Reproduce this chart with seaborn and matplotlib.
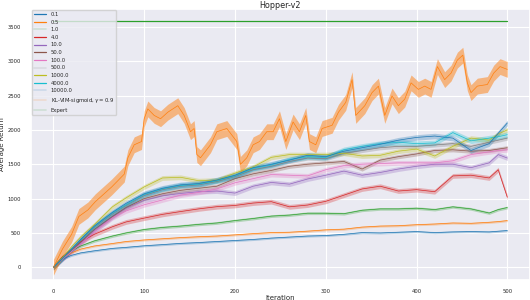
import matplotlib
matplotlib.use("Agg")
import matplotlib.pyplot as plt
from matplotlib.lines import Line2D
import numpy as np
import seaborn as sns

# iteration grid shared by the hyper-parameter runs
iters = [0, 10, 20, 30, 45, 65, 80, 100, 120, 140, 160, 180, 200, 220, 240, 260,
         280, 300, 320, 340, 360, 380, 400, 420, 440, 460, 480, 490, 500]

ret_0_1 = [0, 120, 175, 210, 240, 275, 290, 313, 330, 348, 360, 375, 390, 405, 425, 440,
           455, 462, 480, 505, 500, 510, 520, 505, 515, 520, 515, 525, 535]
ret_0_5 = [0, 140, 210, 265, 310, 346, 375, 398, 415, 432, 445, 455, 472, 490, 505, 510,
           526, 545, 555, 585, 600, 605, 620, 630, 645, 640, 655, 665, 680]
ret_1_0 = [0, 150, 240, 310, 384, 455, 500, 550, 580, 600, 625, 645, 680, 710, 745, 760,
           787, 787, 780, 830, 850, 850, 860, 840, 880, 850, 790, 840, 870]
ret_4_0 = [0, 150, 260, 370, 480, 590, 660, 716, 770, 811, 850, 882, 900, 935, 955, 880,
           906, 960, 1050, 1140, 1180, 1110, 1130, 1100, 1330, 1340, 1300, 1420, 1020]
ret_10 = [0, 120, 230, 350, 530, 730, 860, 975, 1040, 1075, 1100, 1110, 1080, 1180, 1235, 1210,
          1285, 1340, 1400, 1340, 1380, 1430, 1470, 1500, 1500, 1450, 1520, 1640, 1590]
ret_50 = [0, 125, 245, 370, 550, 740, 870, 1000, 1070, 1120, 1150, 1180, 1290, 1360, 1410, 1470,
          1500, 1520, 1540, 1430, 1560, 1610, 1650, 1700, 1710, 1690, 1700, 1720, 1740]
ret_100 = [0, 120, 230, 340, 520, 720, 820, 910, 980, 1050, 1090, 1140, 1230, 1290, 1350, 1340,
           1330, 1420, 1480, 1500, 1510, 1520, 1520, 1520, 1550, 1640, 1680, 1700, 1710]
ret_500 = [0, 130, 255, 390, 580, 775, 900, 1045, 1130, 1180, 1200, 1250, 1320, 1420, 1470, 1540,
           1590, 1580, 1660, 1700, 1740, 1760, 1760, 1780, 1800, 1760, 1820, 1850, 1880]
ret_1000 = [0, 140, 300, 440, 620, 880, 1010, 1170, 1300, 1310, 1260, 1270, 1370, 1460, 1600, 1640,
            1640, 1640, 1660, 1620, 1630, 1690, 1720, 1620, 1760, 1880, 1850, 1940, 2000]
ret_4000 = [0, 130, 260, 400, 590, 790, 910, 1060, 1140, 1190, 1210, 1260, 1330, 1440, 1490, 1570,
            1610, 1600, 1710, 1760, 1800, 1820, 1800, 1810, 1960, 1840, 1880, 1900, 1930]
ret_10000 = [0, 130, 265, 405, 600, 800, 930, 1070, 1150, 1200, 1220, 1270, 1340, 1450, 1500, 1560,
             1630, 1610, 1690, 1740, 1790, 1850, 1890, 1910, 1880, 1700, 1800, 1950, 2100]

# KL-VIM-sigmoid run, read on its own grid
kl_iters = [0, 10, 20, 28, 38, 46, 64, 71, 78, 82, 89, 97, 100, 104, 111, 118, 126, 137, 144,
            151, 155, 158, 162, 173, 180, 191, 202, 206, 213, 220, 227, 235, 242, 249, 256, 264,
            271, 278, 282, 289, 296, 307, 314, 322, 329, 333, 343, 351, 358, 365, 373, 380, 387,
            394, 402, 409, 416, 423, 431, 438, 445, 451, 456, 460, 467, 478, 485, 492, 500]
kl_ret = [0, 266, 479, 740, 835, 953, 1167, 1261, 1356, 1594, 1783, 1830, 2162, 2305, 2210, 2162,
          2257, 2352, 2210, 1973, 2020, 1641, 1594, 1783, 1973, 2020, 1830, 1498, 1594, 1783, 1830,
          1973, 1973, 2162, 1830, 2115, 1973, 2210, 1830, 1783, 2020, 2067, 2257, 2400, 2731, 2210,
          2352, 2542, 2637, 2210, 2494, 2352, 2447, 2684, 2589, 2637, 2589, 2921, 2731, 2826, 3016,
          3087, 2684, 2542, 2637, 2660, 2826, 2921, 2880]

expert_return = 3580

labels = ["0.1", "0.5", "1.0", "4.0", "10.0", "50.0", "100.0", "500.0", "1000.0", "4000.0",
          "10000.0", "KL-VIM-sigmoid, $\\gamma = 0.9$", "Expert"]
hp_runs = [ret_0_1, ret_0_5, ret_1_0, ret_4_0, ret_10, ret_50, ret_100, ret_500, ret_1000,
           ret_4000, ret_10000]
band = [15, 15, 20, 35, 35, 30, 35, 30, 35, 40, 40]
kl_band = 115

sns.set_theme(style="darkgrid")
fig, ax = plt.subplots(figsize=(5.3, 3.0), dpi=100)
fig.subplots_adjust(left=0.058, right=1.0, bottom=0.068, top=0.97)

pal = sns.color_palette("tab10")
x = np.array(iters)
for i, (run, w) in enumerate(zip(hp_runs, band)):
    c = pal[i % 10]
    y = np.array(run, dtype=float)
    sns.lineplot(x=x, y=y, ax=ax, color=c, lw=0.5)
    ax.fill_between(x, y - w, y + w, color=c, alpha=0.3, lw=0)

kx = np.array(kl_iters)
ky = np.array(kl_ret, dtype=float)
sns.lineplot(x=kx, y=ky, ax=ax, color=pal[1], lw=0.5)
ax.fill_between(kx, ky - kl_band, ky + kl_band, color=pal[1], alpha=0.5, lw=0)

sns.lineplot(x=[iters[0], iters[-1]], y=[expert_return, expert_return], ax=ax, color=pal[2], lw=0.9)

ax.set_xlim(-25, 525)
ax.set_ylim(-179, 3759)
ax.set_xticks([0, 100, 200, 300, 400, 500])
ax.set_yticks([0, 500, 1000, 1500, 2000, 2500, 3000, 3500])
ax.tick_params(labelsize=3.8, pad=1)
ax.set_title("Hopper-v2", fontsize=5.8, pad=1)
ax.set_xlabel("Iteration", fontsize=5, labelpad=0.5)
ax.set_ylabel("Average Return", fontsize=5, labelpad=1.5)
for g in ax.get_xgridlines() + ax.get_ygridlines():
    g.set_linewidth(0.8)

# legend handles: some entries come out as pale patches in the original
pale = {2, 7, 10, 11, 12}
handles = []
for i, lab in enumerate(labels):
    c = pal[i % 10]
    if i in pale:
        handles.append(Line2D([], [], color=c, alpha=0.15, lw=1.2))
    else:
        handles.append(Line2D([], [], color=c, lw=0.9))
ax.legend(handles, labels, loc="upper left", fontsize=3.8, handlelength=2.4,
          labelspacing=0.5, borderaxespad=0.15, framealpha=0.8)

fig.savefig("out.png", dpi=100)
